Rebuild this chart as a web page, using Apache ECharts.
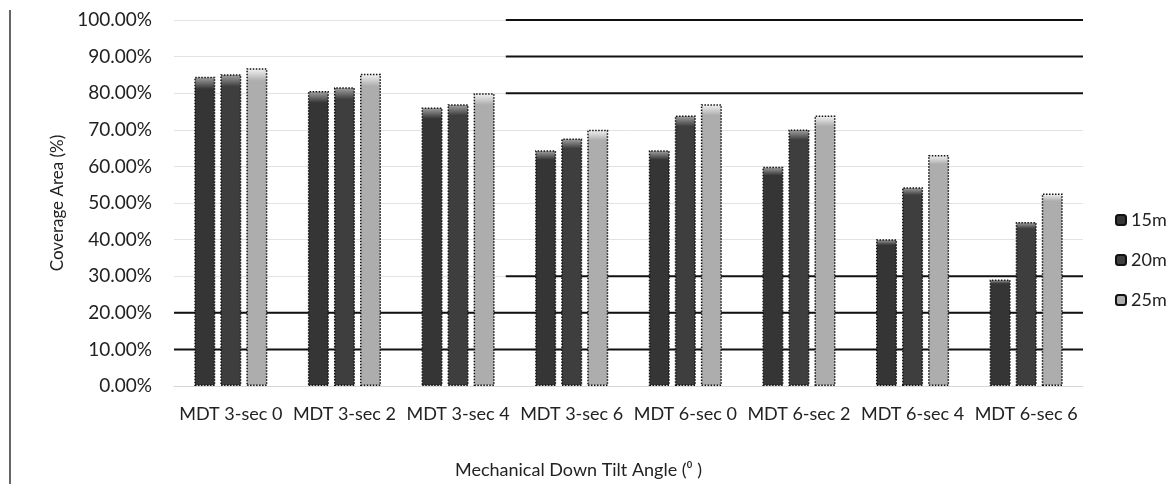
<!DOCTYPE html>
<html>
<head>
<meta charset="utf-8">
<script src="https://cdn.jsdelivr.net/npm/echarts@6/dist/echarts.min.js"></script>
<style>html,body{margin:0;padding:0;background:#fff}#c{width:1172px;height:484px}</style>
</head>
<body>
<div id="c"></div>
<script>
var categories = ['MDT 3-sec 0','MDT 3-sec 2','MDT 3-sec 4','MDT 3-sec 6','MDT 6-sec 0','MDT 6-sec 2','MDT 6-sec 4','MDT 6-sec 6'];
var s15 = [84.5, 80.6, 76.1, 64.4, 64.4, 59.9, 40.1, 29.1];
var s20 = [85.2, 81.6, 77.0, 67.6, 73.9, 70.1, 54.3, 44.8];
var s25 = [86.8, 85.3, 80.0, 70.0, 77.0, 73.9, 63.1, 52.6];
var seriesNames = ['15m', '20m', '25m'];
var darkFull = [10, 20];
var darkPartial = [30, 80, 90, 100];
var partialStart = 2.92;
var axisEnd = 8;

var chart = echarts.init(document.getElementById('c'), null, {renderer: 'canvas'});
var F = 'Lato, "Open Sans", sans-serif';

function barColor(top, base) {
  return new echarts.graphic.LinearGradient(0, 0, 0, 1, [
    {offset: 0, color: top}, {offset: 0.04, color: base}, {offset: 1, color: base}
  ]);
}
function mkBar(name, data, top, base) {
  return {
    name: name, type: 'bar', data: data, barWidth: 21, barGap: '24%', z: 5,
    itemStyle: {color: barColor(top, base), borderColor: '#111', borderWidth: 1.5, borderType: 'dotted'}
  };
}
function mkRule(v, start) {
  return {
    type: 'line', xAxisIndex: 1, z: 1, silent: true, symbol: 'none',
    lineStyle: {color: '#111', width: 2}, data: [[start, v], [axisEnd, v]]
  };
}
var series = [
  mkBar(seriesNames[0], s15, '#a8a8a8', '#353535'),
  mkBar(seriesNames[1], s20, '#a8a8a8', '#3e3e3e'),
  mkBar(seriesNames[2], s25, '#f6f6f6', '#adadad')
];
darkFull.forEach(function (v) { series.push(mkRule(v, 0)); });
darkPartial.forEach(function (v) { series.push(mkRule(v, partialStart)); });

chart.setOption({
  animation: false,
  backgroundColor: '#fff',
  grid: {left: 174, right: 89, top: 20, bottom: 94, containLabel: false},
  legend: {
    orient: 'vertical', left: 1110, top: 206, itemWidth: 10, itemHeight: 10, itemGap: 22,
    textStyle: {fontFamily: F, fontSize: 18, color: '#222'},
    data: seriesNames
  },
  xAxis: [{
    type: 'category', data: categories,
    axisLine: {show: true, lineStyle: {color: '#d8d8d8'}}, axisTick: {show: false},
    axisLabel: {fontFamily: F, fontSize: 18, color: '#222', margin: 19, interval: 0},
    name: 'Mechanical Down Tilt Angle (\u2070 )', nameLocation: 'middle', nameGap: 75,
    nameTextStyle: {fontFamily: F, fontSize: 18, color: '#222', padding: [0, 100, 0, 0]}
  }, {
    type: 'value', min: 0, max: axisEnd, show: false
  }],
  yAxis: {
    type: 'value', min: 0, max: 100, interval: 10,
    axisLine: {show: false}, axisTick: {show: false},
    axisLabel: {fontFamily: F, fontSize: 19, color: '#222', margin: 22,
      formatter: function (v) { return v.toFixed(2) + '%'; }},
    splitLine: {lineStyle: {color: '#e2e2e2', width: 1}},
    name: 'Coverage Area (%)', nameLocation: 'middle', nameGap: 106, nameRotate: 90,
    nameTextStyle: {fontFamily: F, fontSize: 17, color: '#222'}
  },
  series: series,
  graphic: [{
    type: 'line', shape: {x1: 10, y1: 10, x2: 10, y2: 484},
    style: {stroke: '#333', lineWidth: 1.5}
  }]
});
</script>
</body>
</html>
